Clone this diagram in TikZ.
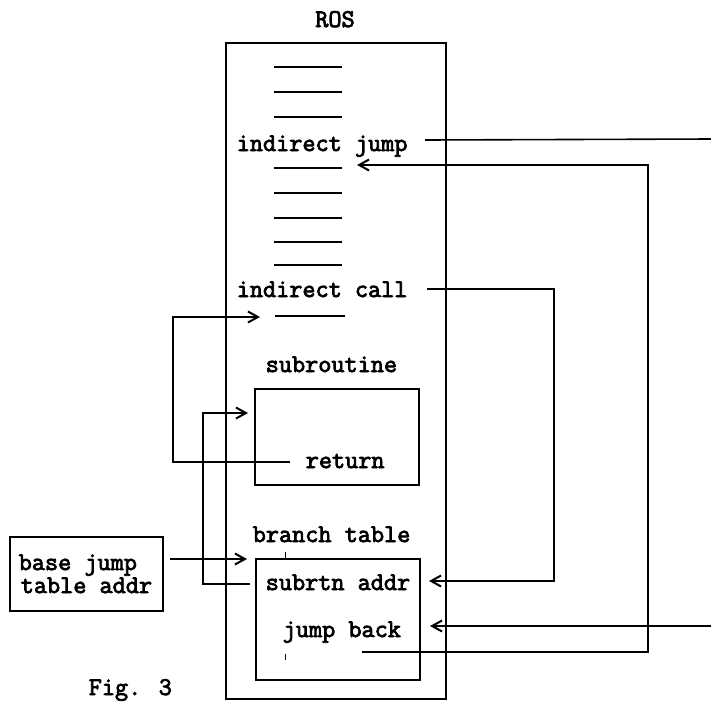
\documentclass[tikz,border=0pt]{standalone}
\usepackage{fontspec}
\newfontfamily\typer{Latin Modern Mono}[FakeBold=3]
\usetikzlibrary{arrows.meta}
\begin{document}
\begin{tikzpicture}[x=1pt,y=-1pt,line width=1.5pt,
  lbl/.style={font=\typer\fontsize{25.5}{28}\selectfont,inner sep=0pt,anchor=base west},
  tipped/.style={-{Straight Barb[length=10pt,width=11pt,line width=2pt]}},
  frame/.style={draw,line width=1.6pt},
  dashline/.style={line width=1.6pt},
  wire/.style={line width=1.6pt}]
\useasboundingbox (0,0) rectangle (711,702);
% ROS storage
\draw[frame] (226,43) rectangle (446,699);
\node[lbl,anchor=base] (roslbl) at (335,27) {ROS};
% dashes
\foreach \yy/\nm in {67/d1,92/d2,117/d3,168/d4,193/d5,218/d6,242/d7,265/d8}{
  \coordinate (\nm a) at (274,\yy); \coordinate (\nm b) at (342,\yy);
  \draw[dashline] (\nm a) -- (\nm b);}
\coordinate (d9a) at (275,316); \coordinate (d9b) at (345,316);
\draw[dashline] (d9a) -- (d9b);
% texts
\node[lbl] (ij) at (236,151) {indirect jump};
\node[lbl] (ic) at (236,297) {indirect call};
\node[lbl] (subl) at (265,372) {subroutine};
\node[lbl] (ret) at (305,468) {return};
\node[lbl] (btl) at (252,542) {branch table};
\node[lbl] (sa) at (265,590) {subrtn addr};
\node[lbl] (jb) at (282,637) {jump back};
\node[lbl] (bj) at (18,570) {base jump};
\node[lbl] (ta) at (20,593) {table addr};
\node[lbl] (fig) at (88,695) {Fig. 3};
% boxes
\draw[frame] (255,389) rectangle (419,485);
\coordinate (subw) at (248,413);
\draw[frame] (256,559) rectangle (420,680);
\coordinate (btw) at (247,559);
\draw[frame] (10,537) rectangle (163,611);
\coordinate (bje) at (170,559);
% small ticks
\draw[line width=1pt] (285,552) -- (285,558);
\draw[line width=1pt] (285,654) -- (285,660);
% connector endpoints
\coordinate (ijout) at (425,140);
\coordinate (edgeA) at (711,139);
\coordinate (edgeB) at (711,626);
\coordinate (jbin) at (430,626);
\coordinate (jbout) at (362,652);
\coordinate (d4in) at (357,165);
\coordinate (icout) at (427,289);
\coordinate (sain) at (429,581);
\coordinate (retout) at (290,462);
\coordinate (d9in) at (260,317);
\coordinate (saout) at (250,584);
% connectors
\draw[wire] (ijout) -- (edgeA);
\draw[wire,tipped] (edgeB) -- (jbin);
\draw[wire,tipped] (jbout) -- (648,652) -- (648,165) -- (d4in);
\draw[wire,tipped] (icout) -- (554,289) -- (554,581) -- (sain);
\draw[wire,tipped] (retout) -- (173,462) -- (173,317) -- (d9in);
\draw[wire,tipped] (saout) -- (203,584) -- (203,413) -- (subw);
\draw[wire,tipped] (bje) -- (btw);
\end{tikzpicture}
\end{document}
